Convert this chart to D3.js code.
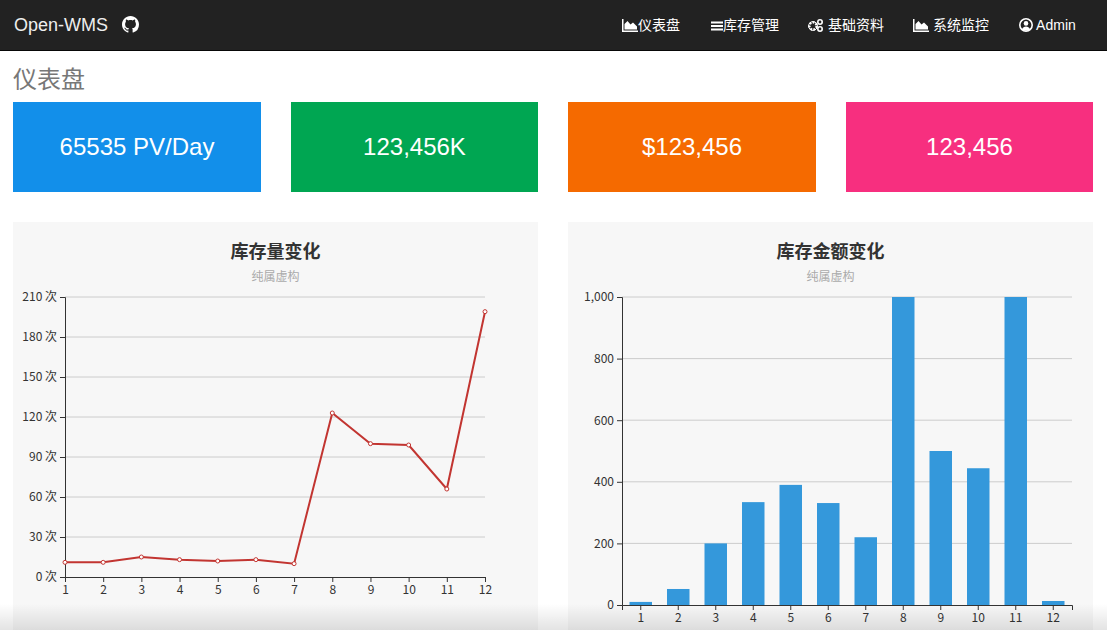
<!DOCTYPE html>
<html>
<head>
<meta charset="utf-8">
<script src="https://cdn.jsdelivr.net/npm/d3@7"></script>
<style>
  html, body { margin:0; padding:0; width:1107px; height:630px; overflow:hidden; background:#fff; font-family:"Liberation Sans","Noto Sans CJK SC",sans-serif; }
  #nav { position:absolute; left:0; top:0; width:1107px; height:50px; background:#222; border-bottom:1px solid #080808; }
  #brand { position:absolute; left:14px; top:15px; font-size:18px; color:#eee; line-height:20px; }
  #gh { position:absolute; left:122px; top:16px; }
  .nitem { position:absolute; top:17px; font-size:14px; color:#fff; line-height:16px; white-space:nowrap; }
  .nitem svg { vertical-align:-2px; }
  #h { position:absolute; left:13px; top:62px; font-size:24px; color:#777; font-family:"Noto Sans CJK SC",sans-serif; line-height:32px; }
  .card { position:absolute; top:102px; height:90px; color:#fff; font-size:24px; text-align:center; line-height:90px; font-family:"Liberation Sans",sans-serif; }
  .panel { position:absolute; top:222px; width:525px; height:420px; background:#f7f7f7; }
  #shade { position:absolute; left:0; top:604px; width:1107px; height:26px; background:linear-gradient(to bottom, rgba(0,0,0,0), rgba(0,0,0,0.11)); pointer-events:none; }
</style>
</head>
<body>
<div id="nav">
  <div id="brand">Open-WMS</div>
  <svg id="gh" width="17" height="17" viewBox="0 0 16 16"><path fill="#fff" d="M8 0C3.58 0 0 3.58 0 8c0 3.54 2.29 6.53 5.47 7.59.4.07.55-.17.55-.38 0-.19-.01-.82-.01-1.49-2.01.37-2.53-.49-2.69-.94-.09-.23-.48-.94-.82-1.13-.28-.15-.68-.52-.01-.53.63-.01 1.08.58 1.23.82.72 1.21 1.87.87 2.33.66.07-.52.28-.87.51-1.07-1.78-.2-3.64-.89-3.64-3.95 0-.87.31-1.59.82-2.15-.08-.2-.36-1.02.08-2.12 0 0 .67-.21 2.2.82.64-.18 1.32-.27 2-.27.68 0 1.36.09 2 .27 1.53-1.04 2.2-.82 2.2-.82.44 1.1.16 1.92.08 2.12.51.56.82 1.27.82 2.15 0 3.07-1.87 3.75-3.65 3.95.29.25.54.73.54 1.48 0 1.07-.01 1.93-.01 2.2 0 .21.15.46.55.38A8.013 8.013 0 0016 8c0-4.42-3.58-8-8-8z"/></svg>
  <div class="nitem" style="left:622px"><svg width="16" height="13" viewBox="0 0 16 13"><path fill="#fff" d="M0 0h1.5v11.5H16V13H0z M2.5 10.5V5l3-3 3 3.5 2.5-2 4 4v3z"/></svg>仪表盘</div>
  <div class="nitem" style="left:711px"><svg width="12" height="12" viewBox="0 0 12 12"><path fill="#fff" d="M0 1.5h12v2H0zM0 5h12v2H0zM0 8.5h12v2H0z"/></svg>库存管理</div>
  <div class="nitem" style="left:808px"><svg width="16" height="13" viewBox="0 0 16 13"><circle cx="5" cy="7" r="3.6" fill="none" stroke="#fff" stroke-width="2.4" stroke-dasharray="2 1.2"/><circle cx="5" cy="7" r="4.4" fill="none" stroke="#fff" stroke-width="1"/><circle cx="12" cy="3" r="2.2" fill="none" stroke="#fff" stroke-width="1.6"/><circle cx="12" cy="10" r="2.2" fill="none" stroke="#fff" stroke-width="1.6"/></svg> 基础资料</div>
  <div class="nitem" style="left:913px"><svg width="16" height="13" viewBox="0 0 16 13"><path fill="#fff" d="M0 0h1.5v11.5H16V13H0z M2.5 10.5V5l3-3 3 3.5 2.5-2 4 4v3z"/></svg> 系统监控</div>
  <div class="nitem" style="left:1019px"><svg width="14" height="14" viewBox="0 0 14 14"><circle cx="7" cy="7" r="6.2" fill="none" stroke="#fff" stroke-width="1.6"/><circle cx="7" cy="5.4" r="2.3" fill="#fff"/><path fill="#fff" d="M3 11.2c.8-2 2.2-2.8 4-2.8s3.2.8 4 2.8c-1 1-2.4 1.6-4 1.6s-3-.6-4-1.6z"/></svg> Admin</div>
</div>
<div id="h">仪表盘</div>
<div id="cards"></div>
<div class="panel" id="p1" style="left:13px"></div>
<div class="panel" id="p2" style="left:568px"></div>
<div id="shade"></div>
<script>
// ---- data ----
const cardTexts = ["65535 PV/Day", "123,456K", "$123,456", "123,456"];
const cardColors = ["#128fea", "#00a652", "#f56a00", "#f72f7f"];
const months = ["1","2","3","4","5","6","7","8","9","10","11","12"];
const stockQty = [11, 11, 15, 13, 12, 13, 10, 123, 100, 99, 66, 199];
const qtyTicks = [0, 30, 60, 90, 120, 150, 180, 210];
const stockAmount = [10, 52, 200, 334, 390, 331, 220, 1000, 500, 444, 1000, 13];
const amountTicks = [0, 200, 400, 600, 800, 1000];
const chartTitles = ["库存量变化", "库存金额变化"];
const chartSub = "纯属虚构";

// cards
const cardLeft = [13, 291, 568, 846];
const cardW = [248, 247, 248, 247];
d3.select("#cards").selectAll("div").data(cardTexts).join("div")
  .attr("class","card")
  .style("left",(d,i)=>cardLeft[i]+"px")
  .style("width",(d,i)=>cardW[i]+"px")
  .style("background",(d,i)=>cardColors[i])
  .text(d=>d);

const FONT = "'Noto Sans CJK SC', sans-serif";

function frame(sel, title) {
  const svg = d3.select(sel).append("svg").attr("width",525).attr("height",420)
    .style("font-family",FONT);
  svg.append("text").attr("x",262.5).attr("y",36).attr("text-anchor","middle")
    .attr("font-size",18).attr("font-weight","bold").attr("fill","#333").text(title);
  svg.append("text").attr("x",262.5).attr("y",59).attr("text-anchor","middle")
    .attr("font-size",12).attr("fill","#aaa").text(chartSub);
  return svg;
}

function styleAxis(g) {
  g.selectAll(".domain").attr("stroke","#333");
  g.selectAll(".tick line").attr("stroke","#333");
  g.selectAll(".tick text").attr("fill","#333").attr("font-size",12).style("font-family",FONT);
}

// ---- line chart ----
{
  const svg = frame("#p1", chartTitles[0]);
  const x = d3.scalePoint().domain(months).range([52, 472]);
  const y = d3.scaleLinear().domain([0, 210]).range([355, 75]);
  svg.append("g").selectAll("line").data(qtyTicks.slice(1)).join("line")
    .attr("x1",52).attr("x2",472).attr("y1",d=>y(d)).attr("y2",d=>y(d))
    .attr("stroke","#ccc").attr("stroke-width",1);
  const ya = svg.append("g").attr("transform","translate(52,0)")
    .call(d3.axisLeft(y).tickValues(qtyTicks).tickFormat(d=>d+" 次").tickSizeOuter(0).tickSize(5).tickPadding(3));
  styleAxis(ya);
  const xa = svg.append("g").attr("transform","translate(0,355)")
    .call(d3.axisBottom(x).tickSizeOuter(0).tickSize(5).tickPadding(3));
  styleAxis(xa);
  svg.append("path").datum(stockQty)
    .attr("d", d3.line().x((d,i)=>x(months[i])).y(d=>y(d)))
    .attr("fill","none").attr("stroke","#c23531").attr("stroke-width",2);
  svg.append("g").selectAll("circle").data(stockQty).join("circle")
    .attr("cx",(d,i)=>x(months[i])).attr("cy",d=>y(d)).attr("r",2)
    .attr("fill","#fff").attr("stroke","#c23531").attr("stroke-width",1);
}

// ---- bar chart ----
{
  const svg = frame("#p2", chartTitles[1]);
  const x = d3.scaleBand().domain(months).range([54, 504]).paddingInner(0.4).paddingOuter(0.2);
  const y = d3.scaleLinear().domain([0, 1000]).range([383, 75]);
  svg.append("g").selectAll("line").data(amountTicks.slice(1)).join("line")
    .attr("x1",54).attr("x2",504).attr("y1",d=>y(d)).attr("y2",d=>y(d))
    .attr("stroke","#ccc").attr("stroke-width",1);
  svg.append("g").selectAll("rect").data(stockAmount).join("rect")
    .attr("x",(d,i)=>x(months[i])).attr("width",x.bandwidth())
    .attr("y",d=>y(d)).attr("height",d=>y(0)-y(d))
    .attr("fill","#3498db");
  const ya = svg.append("g").attr("transform","translate(54,0)")
    .call(d3.axisLeft(y).tickValues(amountTicks).tickFormat(d3.format(",")).tickSizeOuter(0).tickSize(5).tickPadding(3));
  styleAxis(ya);
  const xa = svg.append("g").attr("transform","translate(0,383)")
    .call(d3.axisBottom(x).tickSizeOuter(0).tickSize(5).tickPadding(3));
  styleAxis(xa);
}
</script>
</body>
</html>
